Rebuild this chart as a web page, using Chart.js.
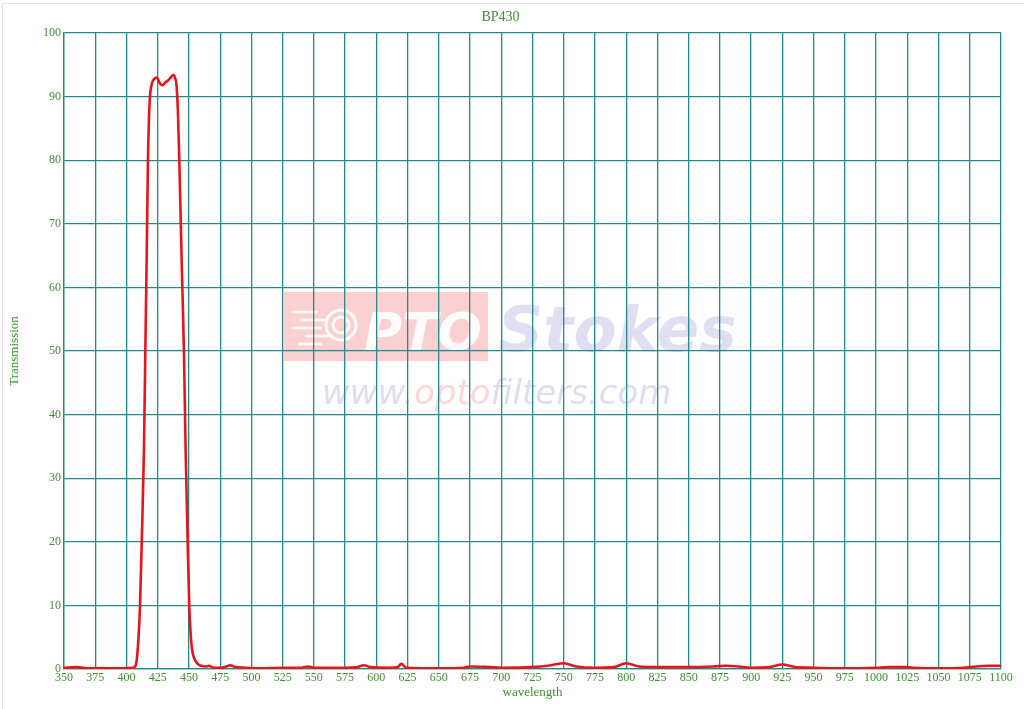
<!DOCTYPE html>
<html>
<head>
<meta charset="utf-8">
<title>BP430</title>
<script src="https://cdn.jsdelivr.net/npm/chart.js@4.4.1/dist/chart.umd.min.js"></script>
<style>
    html, body { margin: 0; padding: 0; background: #fff; }
    #wrap { position: relative; width: 1024px; height: 709px; }
    #frame { position: absolute; left: 2px; top: 3px; right: 0; bottom: 0; border-top: 1px solid #e4e4e4; border-left: 1px solid #e4e4e4; pointer-events: none; }
</style>
</head>
<body>
<div id="wrap">
    <canvas id="myChart" width="1024" height="709"></canvas>
    <div id="frame"></div>
</div>
<script>
// wavelength (nm) and transmission (%)
const wavelengths = [
    350, 360, 370, 380, 390, 400, 405, 407, 408.2, 409.5, 410.8, 412.2, 414, 415.1, 416.2, 417.2,
    418, 418.8, 420, 421.5, 423, 424.2, 425.5, 427, 429, 431, 433, 435, 437.5, 438.8, 440.2, 441.3,
    442.3, 444.2, 446, 447.4, 449, 450.3, 451.7, 453, 454.9, 457, 460, 463, 466, 470, 475, 480,
    483, 487, 495, 505, 525, 540, 545, 550, 575, 585, 590, 595, 610, 617, 620, 624, 650, 670,
    675, 690, 700, 725, 740, 750, 760, 775, 790, 800, 810, 825, 850, 870, 880, 890, 900, 915,
    925, 935, 950, 975, 1000, 1010, 1025, 1030, 1050, 1070, 1080, 1090, 1100
];
const transmission = [
    0.2, 0.3, 0.1, 0.15, 0.1, 0.15, 0.2, 0.4, 1.4, 4.5, 9.7, 19.8, 34.4, 50, 65, 80,
    86.5, 90, 91.8, 92.6, 92.9, 93, 92.6, 92, 91.8, 92.2, 92.5, 92.9, 93.4, 93, 91.5, 87,
    80, 64, 50, 34, 19.8, 9.7, 4.6, 2.5, 1.4, 0.8, 0.5, 0.4, 0.5, 0.2, 0.2, 0.4,
    0.6, 0.3, 0.2, 0.1, 0.2, 0.2, 0.4, 0.2, 0.2, 0.3, 0.6, 0.3, 0.2, 0.3, 0.8, 0.2, 0.1, 0.2,
    0.4, 0.3, 0.2, 0.3, 0.6, 0.9, 0.4, 0.2, 0.3, 0.9, 0.4, 0.3, 0.3, 0.4, 0.5, 0.4, 0.2, 0.3,
    0.7, 0.3, 0.2, 0.1, 0.2, 0.3, 0.3, 0.2, 0.1, 0.2, 0.4, 0.5, 0.5
];

// axis ranges
const xRange = [350, 1100];
const xStep = 25;
const yRange = [0, 100];
const yStep = 10;

const green = "#3f8f33";
const teal = "#23898a";
const font = "'Liberation Serif', 'Times New Roman', serif";

// faint company watermark behind the grid
const watermark = {
    id: "watermark",
    beforeDraw(chart) {
        const ctx = chart.ctx;
        ctx.save();
        ctx.fillStyle = "rgba(240, 110, 110, 0.32)";
        ctx.fillRect(284, 292, 204, 69);

        // little lens icon
        ctx.strokeStyle = "rgba(255,255,255,0.9)";
        ctx.lineWidth = 3;
        ctx.beginPath(); ctx.arc(341, 325, 15, 0, Math.PI * 2); ctx.stroke();
        ctx.beginPath(); ctx.arc(341, 325, 8, 0, Math.PI * 2); ctx.stroke();
        ctx.lineWidth = 2.5;
        [[292, 312, 318], [300, 320, 326], [292, 328, 322], [305, 336, 330], [298, 344, 322]].forEach(([x0, y, x1]) => {
            ctx.beginPath(); ctx.moveTo(x0, y); ctx.lineTo(x1, y); ctx.stroke();
        });

        ctx.textBaseline = "alphabetic";
        ctx.font = "italic bold 52px 'DejaVu Sans', sans-serif";
        ctx.fillStyle = "rgba(255,255,255,0.95)";
        ctx.fillText("PTO", 364, 350);
        ctx.fillStyle = "rgba(150, 150, 210, 0.3)";
        ctx.font = "italic bold 63px 'DejaVu Sans', sans-serif";
        ctx.fillText("Stokes", 498, 351);

        ctx.font = "italic 34px 'DejaVu Sans', sans-serif";
        let x = 322;
        [["www.", "rgba(150,150,210,0.32)"], ["opto", "rgba(240,110,110,0.28)"], ["filters.com", "rgba(150,150,210,0.32)"]].forEach(([t, c]) => {
            ctx.fillStyle = c;
            ctx.fillText(t, x, 404);
            x += ctx.measureText(t).width;
        });
        ctx.restore();
    }
};

const ctx = document.getElementById("myChart").getContext("2d");

new Chart(ctx, {
    type: "line",
    data: {
        datasets: [
            {
                label: "BP430",
                data: wavelengths.map((w, i) => ({ x: w, y: transmission[i] })),
                borderColor: "#e8141c",
                borderWidth: 2.6,
                pointRadius: 0,
                cubicInterpolationMode: "monotone",
                fill: false,
            },
        ],
    },
    options: {
        responsive: false,
        animation: false,
        layout: {
            padding: { left: 0, right: 23, top: 0, bottom: 0 },
        },
        plugins: {
            legend: { display: false },
            tooltip: { enabled: false },
            title: {
                display: true,
                text: "BP430",
                color: green,
                font: { family: font, size: 14, weight: "normal" },
                padding: { top: 9, bottom: 7.2 },
            },
        },
        scales: {
            x: {
                type: "linear",
                min: xRange[0],
                max: xRange[1],
                ticks: {
                    stepSize: xStep,
                    color: green,
                    font: { family: font, size: 12 },
                    padding: 2,
                    maxRotation: 0,
                    autoSkip: false,
                    callback: (v) => String(v),
                },
                grid: { color: teal, lineWidth: 1.3, drawTicks: false },
                border: { color: teal, width: 1.3 },
                title: {
                    display: true,
                    text: "wavelength",
                    color: green,
                    font: { family: font, size: 13 },
                    padding: { top: 0, bottom: 9 },
                },
                afterFit: (scale) => { scale.height = 40; },
            },
            y: {
                min: yRange[0],
                max: yRange[1],
                ticks: {
                    stepSize: yStep,
                    color: green,
                    font: { family: font, size: 12 },
                    padding: 3,
                },
                grid: { color: teal, lineWidth: 1.3, drawTicks: false },
                border: { color: teal, width: 1.3 },
                title: {
                    display: true,
                    text: "Transmission",
                    color: green,
                    font: { family: font, size: 13 },
                    padding: { top: 7, bottom: 0 },
                },
                afterFit: (scale) => { scale.width = 64; },
            },
        },
    },
    plugins: [watermark],
});
</script>
</body>
</html>
